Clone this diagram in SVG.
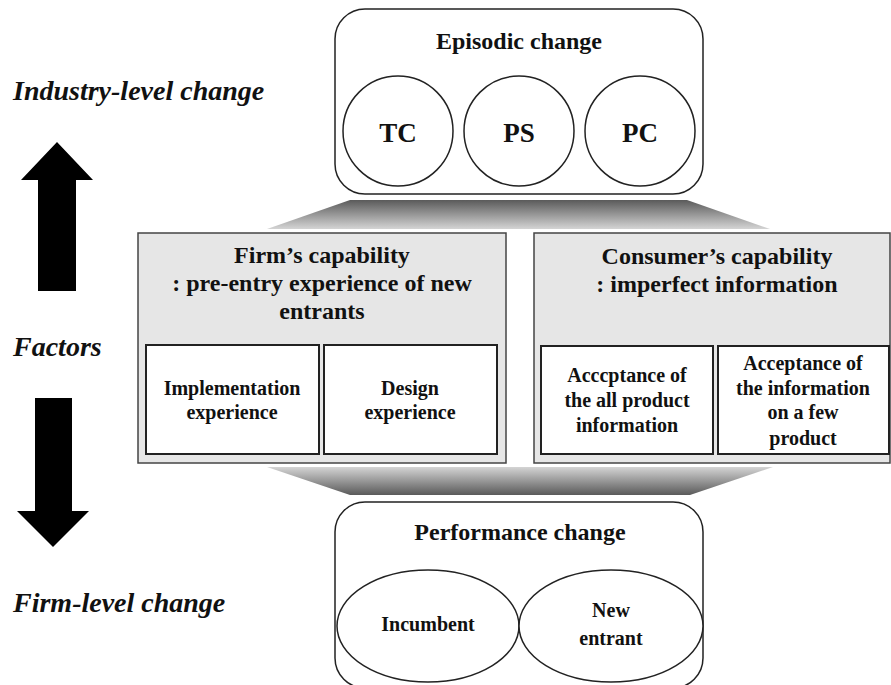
<svg xmlns="http://www.w3.org/2000/svg" width="891" height="685" viewBox="0 0 891 685">
<defs>
<linearGradient id="gTop" x1="0" y1="0" x2="0" y2="1"><stop offset="0" stop-color="#5a5a5a"/><stop offset="1" stop-color="#d4d4d4"/></linearGradient>
<linearGradient id="gBot" x1="0" y1="0" x2="0" y2="1"><stop offset="0" stop-color="#d4d4d4"/><stop offset="1" stop-color="#5a5a5a"/></linearGradient>
<style>
text{font-family:"Liberation Serif","Times New Roman",serif;font-weight:bold;fill:#111;text-anchor:middle}
.t24{font-size:24px}
.t27{font-size:27px}
.t20{font-size:20px}
.side{font-size:28px;font-style:italic;text-anchor:start}
.rbox{fill:#fff;stroke:#222;stroke-width:1.5}
.gbox{fill:#e6e6e6;stroke:#444;stroke-width:1.5}
.wbox{fill:#fff;stroke:#222;stroke-width:2}
.circ{fill:#fff;stroke:#222;stroke-width:1.5}
.arrow{fill:#000}
</style>
</defs>
<rect width="891" height="685" fill="#fff"/>

<g id="connectors">
<polygon points="350,200 687,200 770,229 267,229" fill="url(#gTop)"/>
<polygon points="267,467 773,467 690,495 350,495" fill="url(#gBot)"/>
<polygon class="arrow" points="57,142 93,180 76,180 76,291 38,291 38,180 21,180"/>
<polygon class="arrow" points="35,398 72,398 72,511 89,511 53,547 17,511 35,511"/>
</g>

<g id="labels">
<text class="side" x="13" y="100">Industry-level change</text>
<text class="side" x="13" y="356">Factors</text>
<text class="side" x="13" y="612">Firm-level change</text>
</g>

<g id="episodic">
<rect class="rbox" x="335" y="9" width="368" height="185" rx="30"/>
<text class="t24" x="519" y="49">Episodic change</text>
<g id="tc"><circle class="circ" cx="398" cy="131" r="55"/><text class="t27" x="398" y="142">TC</text></g>
<g id="ps"><circle class="circ" cx="519" cy="131" r="55"/><text class="t27" x="519" y="142">PS</text></g>
<g id="pc"><circle class="circ" cx="640" cy="131" r="55"/><text class="t27" x="640" y="142">PC</text></g>
</g>

<g id="firm">
<rect class="gbox" x="138" y="233" width="368" height="230"/>
<text class="t24" x="322" y="263">Firm’s capability</text>
<text class="t24" x="322" y="291">: pre-entry experience of new</text>
<text class="t24" x="322" y="319">entrants</text>
<g id="impl"><rect class="wbox" x="146" y="345" width="173" height="109"/>
<text class="t20" x="232" y="395">Implementation</text><text class="t20" x="232" y="419">experience</text></g>
<g id="design"><rect class="wbox" x="324" y="345" width="173" height="109"/>
<text class="t20" x="410" y="395">Design</text><text class="t20" x="410" y="419">experience</text></g>
</g>

<g id="consumer">
<rect class="gbox" x="534" y="233" width="356" height="230"/>
<text class="t24" x="717" y="264">Consumer’s capability</text>
<text class="t24" x="717" y="292">: imperfect information</text>
<g id="all"><rect class="wbox" x="541" y="346" width="172" height="108"/>
<text class="t20" x="627" y="382">Acccptance of</text><text class="t20" x="627" y="407">the all product</text><text class="t20" x="627" y="432">information</text></g>
<g id="few"><rect class="wbox" x="718" y="346" width="171" height="108"/>
<text class="t20" x="803" y="370">Acceptance of</text><text class="t20" x="803" y="395">the information</text><text class="t20" x="803" y="419">on a few</text><text class="t20" x="803" y="445">product</text></g>
</g>

<g id="performance">
<rect class="rbox" x="335" y="502" width="368" height="186" rx="30"/>
<text class="t24" x="520" y="540">Performance change</text>
<g id="incumbent"><ellipse class="circ" cx="428" cy="626" rx="91" ry="56"/><text class="t20" x="428" y="631">Incumbent</text></g>
<g id="newentrant"><ellipse class="circ" cx="611" cy="626" rx="92" ry="56"/><text class="t20" x="611" y="617">New</text><text class="t20" x="611" y="645">entrant</text></g>
</g>
</svg>
